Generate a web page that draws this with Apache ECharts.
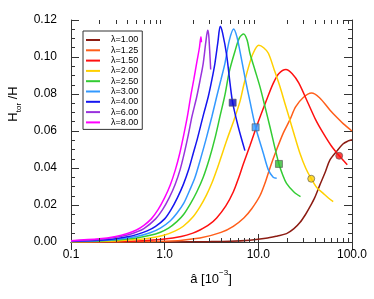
<!DOCTYPE html>
<html><head><meta charset="utf-8">
<script src="https://cdn.jsdelivr.net/npm/echarts@6/dist/echarts.min.js"></script>
<style>html,body{margin:0;padding:0;background:#fff}#c{width:374px;height:299px}</style>
</head><body><div id="c"></div>
<script>
const legendNames = ['λ=1.00','λ=1.25','λ=1.50','λ=2.00','λ=2.50','λ=3.00','λ=4.00','λ=6.00','λ=8.00'];
const xTickValues = [0.1, 1, 10, 100];
const yTickValues = [0, 0.02, 0.04, 0.06, 0.08, 0.10, 0.12];
const xMinorTickValues = [0.2,0.3,0.4,0.5,0.6,0.7,0.8,0.9,2,3,4,5,6,7,8,9,20,30,40,50,60,70,80,90];

const curveL100 = [[1.0,0.0],[3,0.0002],[5,0.0004],[8.1,0.001],[12,0.002],[16,0.0033],[20,0.0045],[24,0.0072],[27.8,0.0105],[32,0.015],[36,0.0195],[40,0.024],[45.5,0.031],[52,0.038],[58,0.0443],[68.5,0.049],[80,0.053],[90,0.0545],[100,0.0553]];
const curveL125 = [[0.1,0],[1.0,0.0004],[2.38,0.0022],[4,0.0052],[5.4,0.0085],[7,0.013],[8.5,0.018],[10.4,0.025],[12,0.033],[13.5,0.041],[15.7,0.050],[18.5,0.059],[21.7,0.066],[25,0.073],[30,0.078],[37,0.0805],[45,0.078],[58,0.0714],[70,0.067],[80.5,0.064],[100,0.060]];
const curveL150 = [[0.1,0.0001],[0.5,0.0005],[1.0,0.0016],[1.5,0.003],[2.0,0.0048],[2.38,0.0065],[3.0,0.0095],[3.59,0.013],[4.5,0.0195],[5.4,0.027],[6.2,0.035],[6.9,0.042],[8.13,0.052],[9.35,0.061],[10.5,0.068],[12.5,0.078],[14.5,0.086],[16.5,0.091],[19.7,0.0933],[23,0.091],[27,0.086],[34,0.075],[41,0.066],[49.3,0.0588],[60,0.052],[73,0.0466],[89,0.0418]];
const curveL200 = [[0.1,0.0001],[0.3,0.0006],[0.5,0.0013],[0.7,0.0022],[1.0,0.0038],[1.3,0.006],[1.58,0.0085],[2.0,0.0135],[2.38,0.019],[2.8,0.0255],[3.2,0.032],[3.6,0.039],[3.95,0.045],[4.6,0.055],[5.5,0.066],[6.37,0.076],[7.0,0.085],[7.8,0.094],[8.8,0.102],[10.1,0.1063],[11.4,0.105],[12.8,0.102],[14.8,0.093],[17,0.084],[19.2,0.075],[21.7,0.066],[24.5,0.057],[27.8,0.048],[32,0.040],[36.7,0.0342],[42,0.0295],[49.3,0.0263],[56,0.0238],[63,0.0218]];
const curveL250 = [[0.1,0.0002],[0.2,0.0006],[0.3,0.0011],[0.5,0.0022],[0.7,0.0036],[0.9,0.0053],[1.1,0.0075],[1.35,0.011],[1.6,0.015],[1.9,0.021],[2.2,0.027],[2.58,0.035],[3.0,0.045],[3.44,0.056],[3.9,0.068],[4.4,0.0795],[4.89,0.092],[5.62,0.103],[6.3,0.1105],[6.97,0.1124],[7.6,0.109],[8.13,0.102],[9.2,0.093],[10.4,0.084],[11.8,0.073],[13.3,0.0623],[15,0.051],[16.6,0.0422],[18.3,0.036],[20,0.0317],[24,0.027],[28.2,0.0245]];
const curveL300 = [[0.1,0.0003],[0.2,0.0008],[0.3,0.0014],[0.5,0.003],[0.7,0.005],[0.9,0.0075],[1.15,0.0115],[1.35,0.0155],[1.6,0.021],[1.85,0.028],[2.11,0.035],[2.45,0.046],[2.78,0.056],[3.2,0.068],[3.59,0.0785],[4.0,0.088],[4.4,0.0966],[4.9,0.109],[5.45,0.1151],[5.9,0.111],[6.37,0.103],[7.2,0.089],[8.13,0.0761],[9.35,0.062],[11.3,0.048],[12.8,0.039],[14.4,0.035],[15.7,0.0345]];
const curveL400 = [[0.1,0.0004],[0.2,0.001],[0.3,0.0018],[0.4,0.0028],[0.5,0.004],[0.65,0.006],[0.8,0.0085],[1.0,0.0125],[1.17,0.0175],[1.37,0.024],[1.58,0.031],[1.8,0.039],[2.02,0.048],[2.24,0.056],[2.6,0.069],[2.92,0.0785],[3.2,0.088],[3.44,0.0966],[3.7,0.108],[3.92,0.1166],[4.15,0.113],[4.59,0.101],[4.98,0.086],[5.32,0.0753],[6.1,0.0623],[7.19,0.0494]];
const curveL600 = [[0.1,0.0006],[0.2,0.0014],[0.3,0.0025],[0.4,0.0038],[0.5,0.0054],[0.6,0.0072],[0.8,0.0125],[0.95,0.0175],[1.12,0.024],[1.29,0.031],[1.46,0.039],[1.62,0.048],[1.79,0.058],[1.96,0.068],[2.2,0.0785],[2.4,0.088],[2.58,0.0966],[2.75,0.108],[2.88,0.1144],[2.95,0.112],[3.02,0.104],[3.1,0.0932]];
const curveL800 = [[0.1,0.0007],[0.2,0.0017],[0.3,0.003],[0.4,0.0046],[0.5,0.0065],[0.6,0.009],[0.72,0.0125],[0.85,0.0175],[1.0,0.024],[1.15,0.031],[1.3,0.039],[1.45,0.048],[1.6,0.058],[1.75,0.068],[1.9,0.079],[2.05,0.088],[2.2,0.097],[2.35,0.105],[2.44,0.111],[2.47,0.108]];

const markerX = [73, 36.7, 16.6, 9.35, 5.32];
const markerY = [0.0466, 0.0342, 0.0422, 0.062, 0.0753];

const curves = [curveL100, curveL125, curveL150, curveL200, curveL250, curveL300, curveL400, curveL600, curveL800];
const colors = ['#8c1c13','#ff5e1a','#ff1010','#ffd000','#33cc33','#3399ff','#1515f0','#9933dd','#ff00ff'];
const markerColors = ['#ff1010','#ffd000','#33bb33','#3399ff','#0a0ad0'];
const markerSymbols = ['circle','circle','rect','rect','rect'];

const FONT = 'Liberation Sans, Arial, Helvetica, sans-serif';
const AX = '#333';

const chart = echarts.init(document.getElementById('c'), null, {renderer:'canvas'});

const series = curves.map((c, i) => ({
  name: legendNames[i], type: 'line', data: c, symbol: 'none', smooth: 0.3,
  lineStyle: {color: colors[i], width: 1.5}, itemStyle: {color: colors[i]}, z: 3
}));

series.push({
  type: 'scatter', z: 5, silent: true,
  data: markerX.map((x, i) => ({
    value: [x, markerY[i]], symbol: markerSymbols[i], symbolSize: 7,
    itemStyle: {color: markerColors[i], borderColor: '#555', borderWidth: 0.8}
  }))
});

const xBase = {
  type: 'log', logBase: 10, min: 0.1, max: 100, splitNumber: 3,
  axisLine: {show: true, lineStyle: {color: AX, width: 1}},
  axisTick: {show: true, inside: true, length: 8, lineStyle: {color: AX}},
  splitLine: {show: false}
};
const yBase = {
  type: 'value', min: 0, max: 0.12, interval: 0.02,
  axisLine: {show: true, lineStyle: {color: AX, width: 1}},
  axisTick: {show: true, inside: true, length: 8, lineStyle: {color: AX}},
  minorTick: {show: true, splitNumber: 4, length: 4, lineStyle: {color: AX}},
  splitLine: {show: false}
};

const baseGraphic = [
  {type: 'text', x: 13, y: 104, rotation: Math.PI / 2, z: 10,
    style: {text: '{a|H}{b|tor}{a| /H}', align: 'center', verticalAlign: 'middle', fill: '#000',
      rich: {a: {fontSize: 13, fontFamily: FONT, lineHeight: 20, verticalAlign: 'middle', fill: '#000'},
             b: {fontSize: 8, fontFamily: FONT, lineHeight: 20, verticalAlign: 'bottom', fill: '#000'}}}},
  {type: 'text', x: 211, y: 279, z: 10,
    style: {text: '{a|â [10}{s|−3}{a|]}', align: 'center', verticalAlign: 'middle', fill: '#000',
      rich: {a: {fontSize: 13, fontFamily: FONT, lineHeight: 20, verticalAlign: 'middle', fill: '#000'},
             s: {fontSize: 8, fontFamily: FONT, lineHeight: 20, verticalAlign: 'top', fill: '#000'}}}}
];

chart.setOption({
  animation: false,
  backgroundColor: '#fff',
  color: colors,
  grid: {left: 71, right: 22, top: 20, bottom: 57, containLabel: false},
  xAxis: [
    Object.assign({}, xBase, {position: 'bottom',
      axisLabel: {show: true, margin: 7, fontSize: 12, fontFamily: FONT, color: '#000',
        formatter: v => { const t = xTickValues.find(q => Math.abs(q - v) / q < 1e-6); return t === undefined ? '' : t.toFixed(1); }}}),
    Object.assign({}, xBase, {position: 'top', axisLabel: {show: false}})
  ],
  yAxis: [
    Object.assign({}, yBase, {position: 'left',
      axisLabel: {show: true, margin: 14, fontSize: 12, fontFamily: FONT, color: '#000',
        formatter: v => { const t = yTickValues.find(q => Math.abs(q - v) < 1e-9); return t === undefined ? '' : t.toFixed(2); }}}),
    Object.assign({}, yBase, {position: 'right', axisLabel: {show: false}})
  ],
  legend: {
    show: true, data: legendNames, orient: 'vertical', left: 83, top: 31,
    icon: 'rect', itemWidth: 14, itemHeight: 2, itemGap: 0.3,
    backgroundColor: '#fff', borderColor: '#333', borderWidth: 1, borderRadius: 0,
    padding: [4, 4, 2, 3],
    textStyle: {fontSize: 9, lineHeight: 10, fontFamily: FONT, color: '#000', padding: [0, 0, 0, 6]}
  },
  graphic: baseGraphic,
  series: series
});

// log minor ticks on bottom and top axes, placed through the axis scale
const tickGraphics = [];
xMinorTickValues.forEach(v => {
  const pb = chart.convertToPixel({xAxisIndex: 0, yAxisIndex: 0}, [v, 0]);
  const pt = chart.convertToPixel({xAxisIndex: 0, yAxisIndex: 0}, [v, 0.12]);
  const x = Math.round(pb[0]) + 0.5;
  tickGraphics.push({type: 'line', z: 20, silent: true, shape: {x1: x, y1: pb[1], x2: x, y2: pb[1] - 4}, style: {stroke: AX, lineWidth: 1}});
  tickGraphics.push({type: 'line', z: 20, silent: true, shape: {x1: x, y1: pt[1], x2: x, y2: pt[1] + 4}, style: {stroke: AX, lineWidth: 1}});
});
chart.setOption({graphic: baseGraphic.concat(tickGraphics)});
</script></body></html>
